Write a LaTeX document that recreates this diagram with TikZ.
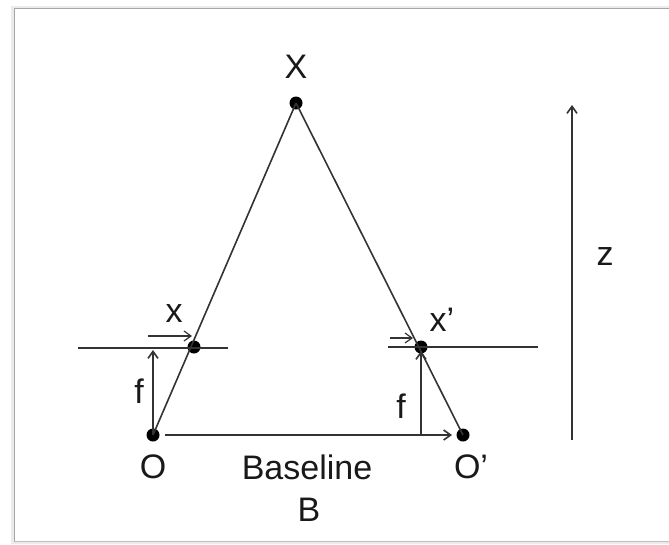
\documentclass[tikz,border=0pt]{standalone}
\usepackage{fontspec}
\setmainfont{Liberation Sans}
\usetikzlibrary{arrows.meta}
\begin{document}
\begin{tikzpicture}[x=1pt,y=-1pt,
  ln/.style={draw=black!80, line width=1.6pt},
  arr/.style={ln, -{Straight Barb[length=7pt,width=10pt]}},
  dot/.style={circle, fill=black, inner sep=0pt, minimum size=13pt},
  lbl/.style={font=\fontsize{34}{38}\selectfont, text=black!90, inner sep=0pt}]
\useasboundingbox (0,0) rectangle (669,544);
% frame
\fill[black!8] (11,6) rectangle (669,544);
\fill[white] (14,8) rectangle (669,541);
\draw[black!35, line width=0.8pt] (14,541) -- (14,8) -- (669,8);
\draw[black!25, line width=0.8pt] (14,541) -- (669,541);
% points
\node[dot] (X) at (296,103) {};
\node[dot] (O) at (153,435) {};
\node[dot] (Op) at (463,435) {};
\node[dot] (xl) at (194,347) {};
\node[dot] (xr) at (421,347) {};
% image planes
\coordinate (pl1) at (78,348);
\coordinate (pl2) at (228,348);
\coordinate (pr1) at (388,347);
\coordinate (pr2) at (538,347);
\draw[ln] (pl1) -- (pl2);
\draw[ln] (pr1) -- (pr2);
% rays
\draw[ln] (O.center) -- (X.center);
\draw[ln] (Op.center) -- (X.center);
% focal arrows
\coordinate (fl) at (153,350);
\coordinate (frb) at (421,435);
\coordinate (frt) at (421,351);
\draw[arr] (O.center) -- (fl);
\draw[arr] (frb) -- (frt);
% baseline
\coordinate (bs) at (165,435);
\coordinate (be) at (452,435);
\draw[arr] (bs) -- (be);
% small x arrows
\coordinate (sa1) at (148,336);
\coordinate (sa2) at (192,336);
\coordinate (sb1) at (390,338);
\coordinate (sb2) at (413,338);
\draw[arr, line width=1.2pt] (sa1) -- (sa2);
\draw[arr, line width=1.2pt] (sb1) -- (sb2);
% z arrow
\coordinate (z1) at (572,440);
\coordinate (z2) at (572,105);
\draw[arr] (z1) -- (z2);
% labels
\node[lbl] (lX) at (296,67) {X};
\node[lbl] (lO) at (153,467) {O};
\node[lbl] (lOp) at (471,467) {O’};
\node[lbl] (lx) at (174,314) {x};
\node[lbl] (lxp) at (442,320) {x’};
\node[lbl] (lf1) at (139,391) {f};
\node[lbl] (lf2) at (401,406) {f};
\node[lbl] (lbase) at (307,467) {Baseline};
\node[lbl] (lB) at (309,510) {B};
\node[lbl] (lz) at (605,257) {z};
\end{tikzpicture}
\end{document}
